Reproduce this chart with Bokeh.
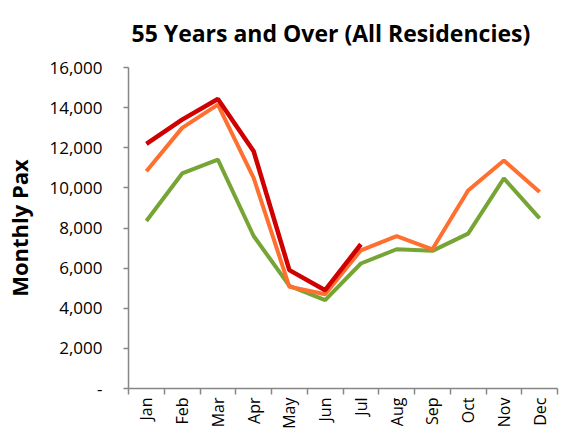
from bokeh.plotting import figure
from bokeh.models import Range1d, FixedTicker, CustomJSTickFormatter
from bokeh.embed import file_html
from bokeh.resources import INLINE
import math

months = ["Jan", "Feb", "Mar", "Apr", "May", "Jun", "Jul", "Aug", "Sep", "Oct", "Nov", "Dec"]
series_red = [12190, 13400, 14430, 11830, 5900, 4900, 7190]
series_orange = [10830, 12990, 14150, 10500, 5070, 4700, 6890, 7600, 6940, 9870, 11360, 9800]
series_green = [8350, 10720, 11410, 7600, 5120, 4410, 6230, 6940, 6860, 7720, 10470, 8480]
y_ticks = [0, 2000, 4000, 6000, 8000, 10000, 12000, 14000, 16000]

FONT = "Open Sans"
AXIS_COLOR = "#868686"

p = figure(width=563, height=432, output_backend="svg", toolbar_location=None,
           x_range=Range1d(0, 12), y_range=Range1d(0, 16000),
           min_border_left=128, min_border_right=6, min_border_top=66, min_border_bottom=44)

p.title.text = "55 Years and Over (All Residencies)"
p.title.text_font = FONT
p.title.text_font_size = "23px"
p.title.text_font_style = "bold"
p.title.text_color = "#000000"
p.title.align = "left"
p.title.vertical_align = "top"
p.title.offset = 3
p.title.standoff = 33

xc = [i + 0.5 for i in range(12)]
p.line(xc, series_green, line_color="#76A536", line_width=4)
p.line(xc, series_orange, line_color="#FF6F2F", line_width=4)
p.line(xc[:len(series_red)], series_red, line_color="#D00000", line_width=4.5)

p.xgrid.visible = False
p.ygrid.visible = False
p.outline_line_color = None

# x axis
xa = p.xaxis[0]
xa.ticker = FixedTicker(ticks=xc, minor_ticks=list(range(13)))
xa.major_label_overrides = {x: m for x, m in zip(xc, months)}
xa.major_label_orientation = math.pi / 2
xa.major_tick_line_color = None
xa.minor_tick_in = 0
xa.minor_tick_out = 6
xa.minor_tick_line_color = AXIS_COLOR
xa.minor_tick_line_width = 1.5
xa.axis_line_color = AXIS_COLOR
xa.axis_line_width = 1.5
xa.major_label_text_font = FONT
xa.major_label_text_font_size = "16px"
xa.major_label_standoff = 3
xa.major_label_text_color = "#000000"

# y axis
ya = p.yaxis[0]
ya.ticker = FixedTicker(ticks=y_ticks, minor_ticks=[])
ya.formatter = CustomJSTickFormatter(code="return tick == 0 ? '-' : tick.toLocaleString('en-US');")
ya.major_tick_in = 0
ya.major_tick_out = 5
ya.major_tick_line_color = AXIS_COLOR
ya.major_tick_line_width = 1.5
ya.minor_tick_line_color = None
ya.axis_line_color = AXIS_COLOR
ya.axis_line_width = 1.5
ya.major_label_text_font = FONT
ya.major_label_text_font_size = "17px"
ya.major_label_standoff = 21
ya.major_label_text_color = "#000000"
ya.axis_label = "Monthly Pax"
ya.axis_label_text_font = FONT
ya.axis_label_text_font_size = "22px"
ya.axis_label_text_font_style = "bold"
ya.axis_label_text_color = "#000000"
ya.axis_label_standoff = 12

open("out.html", "w").write(file_html(p, INLINE))
